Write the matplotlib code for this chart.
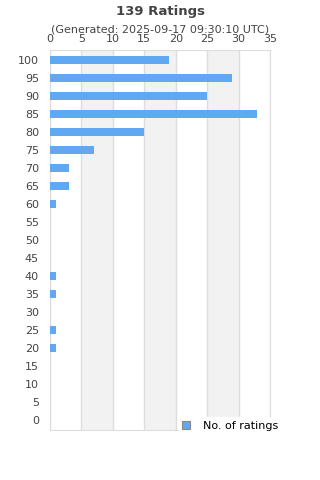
import matplotlib
matplotlib.use("Agg")
import matplotlib.pyplot as plt

categories = [0, 5, 10, 15, 20, 25, 30, 35, 40, 45, 50, 55, 60, 65, 70, 75, 80, 85, 90, 95, 100]
counts = [0, 0, 0, 0, 1, 1, 0, 1, 1, 0, 0, 0, 1, 3, 3, 7, 15, 33, 25, 29, 19]
x_ticks = [0, 5, 10, 15, 20, 25, 30, 35]
title = "139 Ratings"
subtitle = "(Generated: 2025-09-17 09:30:10 UTC)"
legend_label = "No. of ratings"

fig = plt.figure(figsize=(3.2, 4.8), dpi=100)
ax = fig.add_axes([50/320, 1-430/480, 220/320, 380/480])

pos = list(range(len(categories)))
ax.barh(pos, counts, height=0.45, color="#60a8f2", label=legend_label, zorder=3)

for i in range(len(x_ticks) - 1):
    if i % 2 == 1:
        ax.axvspan(x_ticks[i], x_ticks[i+1], color="#f2f2f2", zorder=0, lw=0)
for t in x_ticks:
    ax.axvline(t, color="#dddddd", lw=1, zorder=1)

ax.set_xlim(0, 35)
ax.set_ylim(-0.55, len(categories) - 0.45)
ax.set_xticks(x_ticks)
ax.set_yticks(pos)
ax.set_yticklabels([str(c) for c in categories])
ax.xaxis.tick_top()
ax.tick_params(axis="both", length=0, labelsize=8, colors="#444444")
ax.tick_params(axis="x", pad=4.5)
ax.tick_params(axis="y", pad=8)
for s in ax.spines.values():
    s.set_color("#dddddd")

fig.text(0.5, 1-11/480, title, ha="center", va="center", fontsize=9.5, fontweight="bold", color="#444444")
fig.text(0.5, 1-29/480, subtitle, ha="center", va="center", fontsize=8, color="#444444")

leg = ax.legend(loc="lower right", bbox_to_anchor=(1.08, -0.025), frameon=True, fontsize=8,
                handlelength=0.7, handleheight=0.7, borderpad=0.3, labelspacing=0.2, handletextpad=1.2)
leg.get_frame().set_facecolor("white")
leg.get_frame().set_edgecolor("white")
leg.get_frame().set_alpha(1)
leg.set_zorder(5)
leg.legend_handles[0].set_edgecolor("#888888")
leg.legend_handles[0].set_linewidth(0.8)

fig.savefig("out.png", dpi=100)
